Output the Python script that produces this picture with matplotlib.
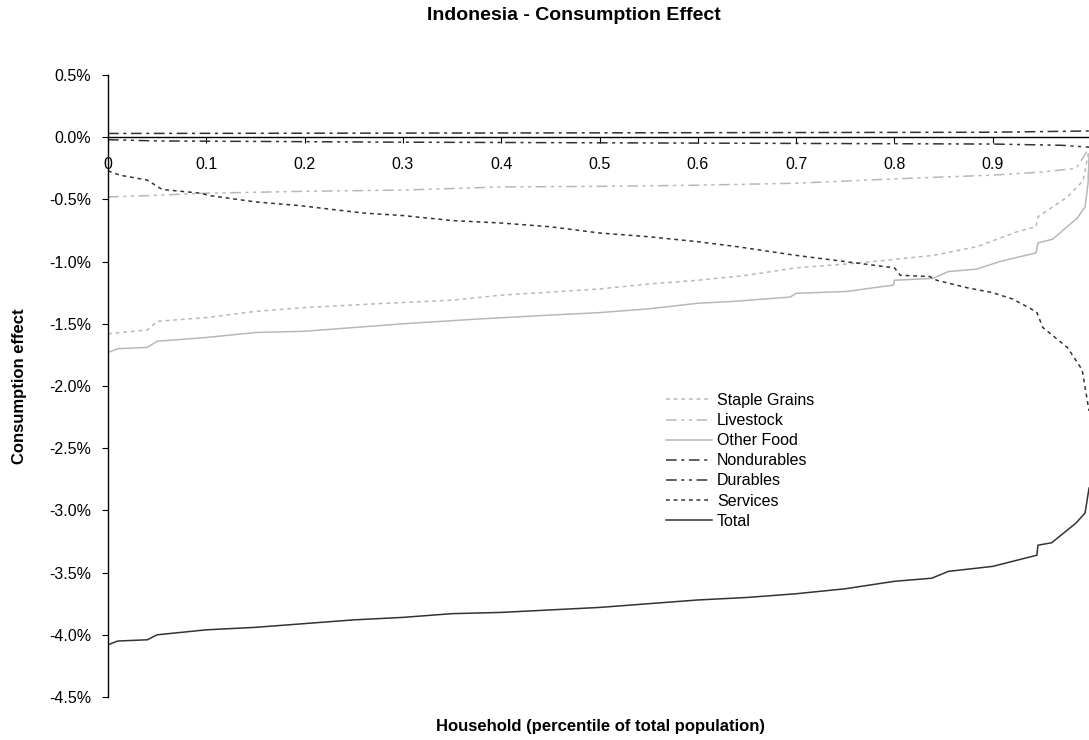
import matplotlib
matplotlib.use('Agg')
import matplotlib.pyplot as plt
from matplotlib.ticker import FuncFormatter

plt.rcParams['font.family'] = ['Liberation Sans', 'DejaVu Sans']

# Werte in Prozent
x_staple = [0, 0.04, 0.05, 0.1, 0.15, 0.2, 0.27, 0.35, 0.4, 0.5, 0.55, 0.6, 0.65, 0.7, 0.75,
            0.79, 0.84, 0.884, 0.925, 0.944, 0.946, 0.976, 0.992, 0.998]
staple = [-1.58, -1.55, -1.48, -1.45, -1.40, -1.37, -1.34, -1.31, -1.27, -1.22, -1.18, -1.15,
          -1.11, -1.05, -1.02, -0.99, -0.95, -0.88, -0.76, -0.72, -0.64, -0.48, -0.35, -0.10]

x_livestock = [0, 0.04, 0.1, 0.2, 0.3, 0.4, 0.5, 0.6, 0.7, 0.8, 0.9, 0.95, 0.985, 0.993, 0.998]
livestock = [-0.48, -0.47, -0.45, -0.435, -0.425, -0.40, -0.395, -0.386, -0.37, -0.335, -0.305,
             -0.28, -0.25, -0.15, -0.08]

x_other = [0, 0.01, 0.04, 0.05, 0.1, 0.15, 0.2, 0.25, 0.3, 0.38, 0.45, 0.5, 0.55, 0.6, 0.636,
           0.694, 0.7, 0.752, 0.788, 0.799, 0.8, 0.839, 0.855, 0.884, 0.907, 0.944, 0.946,
           0.961, 0.986, 0.994, 0.997, 0.998]
other_food = [-1.73, -1.70, -1.69, -1.64, -1.61, -1.57, -1.56, -1.53, -1.50, -1.46, -1.43,
              -1.41, -1.38, -1.335, -1.32, -1.285, -1.255, -1.24, -1.20, -1.19, -1.15, -1.135,
              -1.08, -1.06, -1.0, -0.93, -0.85, -0.82, -0.65, -0.56, -0.37, -0.15]

x_nondur = [0, 0.5, 0.9, 0.998]
nondurables = [0.03, 0.035, 0.04, 0.05]

x_dur = [0, 0.05, 0.3, 0.7, 0.9, 0.97, 0.998]
durables = [-0.02, -0.03, -0.04, -0.05, -0.055, -0.065, -0.08]

x_services = [0, 0.012, 0.04, 0.055, 0.094, 0.104, 0.15, 0.195, 0.26, 0.3, 0.35, 0.4, 0.45,
              0.5, 0.55, 0.6, 0.64, 0.7, 0.75, 0.8, 0.806, 0.836, 0.843, 0.874, 0.9, 0.92,
              0.938, 0.945, 0.951, 0.976, 0.991, 0.998]
services = [-0.27, -0.305, -0.345, -0.42, -0.45, -0.47, -0.52, -0.55, -0.61, -0.63, -0.67,
            -0.69, -0.72, -0.77, -0.80, -0.84, -0.88, -0.95, -1.0, -1.05, -1.11, -1.12, -1.15,
            -1.21, -1.25, -1.30, -1.375, -1.41, -1.53, -1.69, -1.87, -2.20]

x_total = [0, 0.01, 0.04, 0.045, 0.05, 0.1, 0.15, 0.2, 0.25, 0.3, 0.35, 0.4, 0.45, 0.5, 0.55,
           0.6, 0.65, 0.7, 0.75, 0.8, 0.838, 0.855, 0.9, 0.945, 0.946, 0.96, 0.985, 0.994, 0.998]
total = [-4.08, -4.05, -4.04, -4.02, -4.0, -3.96, -3.94, -3.91, -3.88, -3.86, -3.83, -3.82,
         -3.80, -3.78, -3.75, -3.72, -3.70, -3.67, -3.63, -3.57, -3.545, -3.49, -3.45, -3.36,
         -3.28, -3.26, -3.10, -3.02, -2.82]

x_ticks = [0, 0.1, 0.2, 0.3, 0.4, 0.5, 0.6, 0.7, 0.8, 0.9]
x_ticklabels = ['0', '0.1', '0.2', '0.3', '0.4', '0.5', '0.6', '0.7', '0.8', '0.9']
y_ticks = [0.5, 0.0, -0.5, -1.0, -1.5, -2.0, -2.5, -3.0, -3.5, -4.0, -4.5]

light = '#b8b8b8'
dark = '#333333'

fig = plt.figure(figsize=(10.89, 7.40), dpi=100)
ax = fig.add_axes([108 / 1089, 43 / 740, 983 / 1089, 622 / 740])

ax.plot(x_staple, staple, color=light, lw=1.1, linestyle=(0, (2.5, 2.5)), label='Staple Grains')
ax.plot(x_livestock, livestock, color=light, lw=1.1, linestyle=(0, (7, 3, 2, 3, 2, 3)), label='Livestock')
ax.plot(x_other, other_food, color=light, lw=1.1, label='Other Food')
ax.plot(x_nondur, nondurables, color=dark, lw=1.1, linestyle=(0, (7, 3, 2, 3)), label='Nondurables')
ax.plot(x_dur, durables, color=dark, lw=1.1, linestyle=(0, (7, 3, 2, 3, 2, 3)), label='Durables')
ax.plot(x_services, services, color=dark, lw=1.1, linestyle=(0, (2.5, 2.5)), label='Services')
ax.plot(x_total, total, color=dark, lw=1.1, label='Total')

ax.set_xlim(0, 1)
ax.set_ylim(-4.5, 0.5)
ax.spines['top'].set_visible(False)
ax.spines['right'].set_visible(False)
ax.spines['bottom'].set_position(('data', 0))
ax.spines['bottom'].set_linewidth(1.0)
ax.spines['left'].set_linewidth(1.0)

ax.set_xticks(x_ticks)
ax.set_xticklabels(x_ticklabels)
ax.set_yticks(y_ticks)
ax.yaxis.set_major_formatter(FuncFormatter(lambda v, p: f'{v:.1f}%'))
ax.tick_params(axis='x', direction='out', length=4, pad=10, labelsize=11.5)
ax.tick_params(axis='y', direction='out', length=4, pad=8, labelsize=11.5)

leg = ax.legend(loc='upper left', bbox_to_anchor=(666 / 1089, 1 - 393 / 740),
                bbox_transform=fig.transFigure, frameon=False, fontsize=11.5,
                handlelength=2.9, handletextpad=0.3, labelspacing=0.32,
                borderpad=0, borderaxespad=0)

fig.text(574 / 1089, 1 - 15 / 740, 'Indonesia - Consumption Effect', ha='center', va='center',
         fontsize=14, fontweight='bold')
fig.text(600 / 1089, 1 - 727 / 740, 'Household (percentile of total population)', ha='center',
         va='center', fontsize=12, fontweight='bold')
fig.text(20 / 1089, 1 - 386 / 740, 'Consumption effect', ha='center', va='center',
         rotation=90, fontsize=12, fontweight='bold')

fig.savefig('out.png', dpi=100)
